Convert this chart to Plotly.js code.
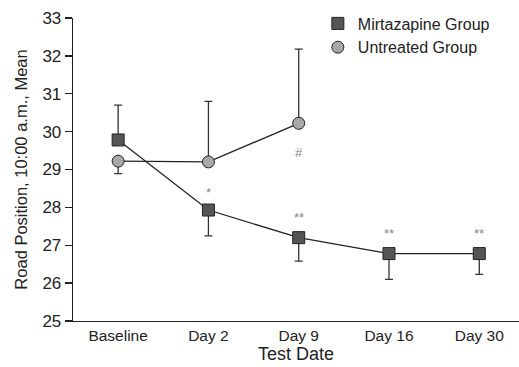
<!DOCTYPE html>
<html><head><meta charset="utf-8">
<script src="https://cdn.plot.ly/plotly-3.0.1.min.js"></script>
<style>body{margin:0;background:#fff}#c{width:519px;height:367px}</style>
</head><body><div id="c"></div>
<script>
var categories = ["Baseline", "Day 2", "Day 9", "Day 16", "Day 30"];
var mirtMean = [29.78, 27.93, 27.2, 26.78, 26.78];
var mirtErrUp = [0.92, 0, 0, 0, 0];
var mirtErrDown = [0, 0.68, 0.62, 0.68, 0.55];
var untrCats = ["Baseline", "Day 2", "Day 9"];
var untrMean = [29.22, 29.2, 30.22];
var untrErrUp = [0, 1.6, 1.96];
var untrErrDown = [0.33, 0, 0];
var sigCats = ["Day 2", "Day 9", "Day 16", "Day 30", "Day 9"];
var sigY = [28.4, 27.73, 27.3, 27.3, 29.45];
var sigText = ["*", "**", "**", "**", "#"];

var FONT = "Liberation Sans";
var traces = [
 {x: categories, y: mirtMean, type: "scatter", mode: "lines", showlegend: false,
  line: {color: "#222", width: 1.3}},
 {x: untrCats, y: untrMean, type: "scatter", mode: "lines", showlegend: false,
  line: {color: "#222", width: 1.3}},
 {x: categories, y: mirtMean, name: "Mirtazapine Group", type: "scatter", mode: "markers",
  marker: {symbol: "square", size: 12, color: "#555555", line: {color: "#222", width: 1}},
  error_y: {type: "data", symmetric: false, array: mirtErrUp, arrayminus: mirtErrDown, color: "#333", thickness: 1.3, width: 4}},
 {x: untrCats, y: untrMean, name: "Untreated Group", type: "scatter", mode: "markers",
  marker: {symbol: "circle", size: 12, color: "#a8a8a8", line: {color: "#222", width: 1}},
  error_y: {type: "data", symmetric: false, array: untrErrUp, arrayminus: untrErrDown, color: "#333", thickness: 1.3, width: 4}}
];
var ann = sigText.map(function(t, i){
  return {x: sigCats[i], y: sigY[i], text: t, showarrow: false, xref: "x", yref: "y",
    font: {family: FONT, size: 13, color: "#888"}};
});
var layout = {
  width: 519, height: 367,
  margin: {l: 73, r: 0, t: 18, b: 46},
  paper_bgcolor: "#fff", plot_bgcolor: "#fff",
  font: {family: FONT, color: "#222"},
  showlegend: true,
  legend: {x: 0.549, y: 1.038, xanchor: "left", yanchor: "top", bgcolor: "rgba(0,0,0,0)",
    font: {family: FONT, size: 16, color: "#222"}, tracegroupgap: 0, itemwidth: 30},
  xaxis: {type: "category", categoryorder: "array", categoryarray: categories,
    range: [-0.5, 4.44], showline: true, linecolor: "#222", linewidth: 1.3,
    ticks: "", showgrid: false, zeroline: false,
    tickfont: {family: FONT, size: 15.5, color: "#222"},
    title: {text: "Test Date", font: {family: FONT, size: 18, color: "#222"}, standoff: 4}},
  yaxis: {range: [25, 33], dtick: 1, showline: true, linecolor: "#222", linewidth: 1.3,
    ticks: "outside", ticklen: 7, tickcolor: "#222", tickwidth: 1.3, showgrid: false, zeroline: false,
    tickfont: {family: FONT, size: 17, color: "#222"},
    title: {text: "Road Position, 10:00 a.m., Mean", font: {family: FONT, size: 16.5, color: "#222"}, standoff: 10}},
  annotations: ann
};
Plotly.newPlot("c", traces, layout, {displayModeBar: false, staticPlot: true});
</script></body></html>
